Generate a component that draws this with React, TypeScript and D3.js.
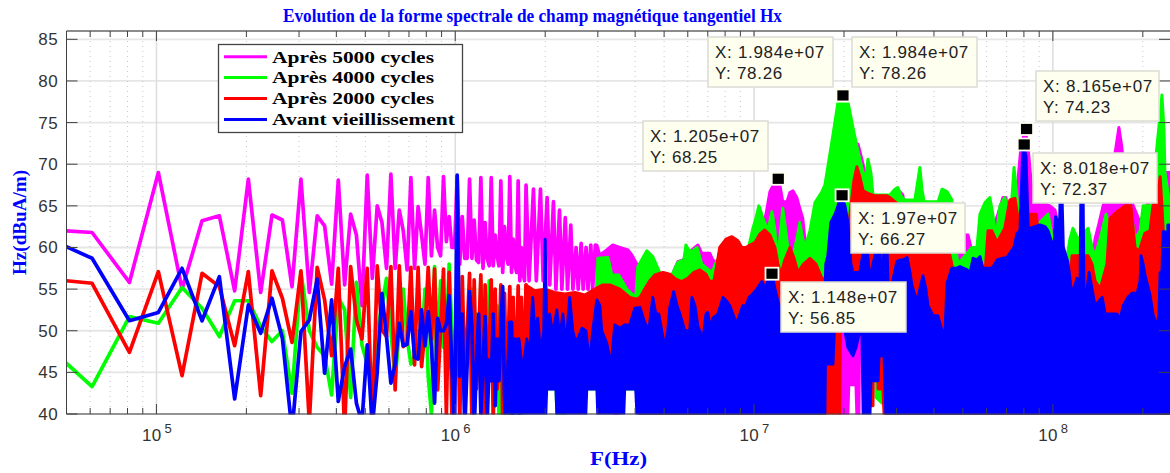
import React from "react";
import * as d3 from "d3";

// ---------- axis data ----------
const TITLE = "Evolution de la forme spectrale de champ magnétique tangentiel Hx";
const X_LABEL = "F(Hz)";
const Y_LABEL = "Hz(dBuA/m)";
const Y_TICKS = [40, 45, 50, 55, 60, 65, 70, 75, 80, 85];
const X_DECADES = [5, 6, 7, 8];
const F_MIN = 5e4;
const LOGF_MAX = 8.392;
const DB_MIN = 40;
const DB_MAX = 86;
const HARMONIC_HZ = 20300;

// ---------- low-frequency comb: harmonic rank and level ----------
const combN = [2.46, ...d3.range(3, 86)];

const magentaComb = [62, 61.8, 55.8, 69, 55, 63.2, 63.8, 54.8, 68.2, 54.6, 63.9, 63.3, 55.3, 68.2, 54.6, 63.8, 62.6, 55.6, 68.1, 55.5, 64, 61.5, 53, 68.7, 56.3, 65, 63, 57.5, 68.8, 57.5, 64.5, 62, 57.3, 68.4, 57.5, 64.9, 61.5, 58, 68.4, 59, 64.5, 60, 59, 68.5, 60.7, 63.7, 60, 60, 68.5, 58, 63.7, 58.7, 58.7, 68.2, 58.7, 63.3, 58.5, 58.2, 68.4, 57.5, 63, 58.7, 57.8, 68.4, 57.8, 61.5, 59, 57.8, 68, 57, 62.5, 59, 58, 68.5, 57, 61, 58, 57, 68, 56, 60, 57, 56, 67.5];
const magentaCombTailN = [87, 90, 92, 95, 97, 100, 102, 105, 107, 110, 112, 115, 117, 120, 122, 125, 127, 130, 132, 135, 137, 140, 142, 145];
const magentaCombTail = [56, 67, 56, 67, 56, 66, 55.5, 65.5, 55, 64.5, 55, 63.6, 55, 62.7, 55, 60, 55, 60.5, 55, 60, 55, 60.3, 55, 60.3];

const greenComb = [46.1, 43.3, 51.7, 50.9, 55.2, 52.7, 49.3, 53.6, 53.6, 50.5, 48.7, 50, 42.5, 57, 50, 48, 47, 42.3, 54, 52.5, 42, 55.8, 48.3, 46, 43, 50, 53, 56.3, 50, 44, 50, 55, 49, 46, 47, 50, 48, 55, 44.5, 40, 57.7, 48, 56, 48, 49.2, 58, 50, 45, 54, 44, 52, 45, 48, 47, 55, 46, 52, 44, 56, 42, 53, 45, 56, 44, 50, 41, 53, 40, 52, 40, 50, 39, 50, 39, 48, 39, 48, 39, 47, 39, 46, 39, 46, 42];

const redComb = [56, 55.7, 47.4, 57.1, 44.6, 56.9, 55.3, 48.2, 57.1, 42.2, 57.2, 53.9, 48.6, 57.2, 39, 57.6, 53.7, 47, 57.5, 38, 57.7, 51.3, 49, 57.5, 38, 57.8, 50.1, 49.3, 57.7, 42.9, 57.8, 48.1, 48.4, 57.6, 45.9, 57.6, 45.7, 50, 57.6, 49, 57.4, 42.9, 50, 57.4, 40, 57, 40, 44, 57, 39, 56.5, 44, 50, 56.9, 39, 56.1, 43, 49, 56.7, 38.5, 55.5, 44, 48, 56.1, 39, 55, 43, 47, 55.5, 39, 54.5, 44, 48, 55.3, 40, 54, 44, 47, 55.4, 41, 54, 45, 48, 55.5];

const blueCombN = [2.46, ...d3.range(3, 82)];
const blueComb = [60.1, 58.7, 51.2, 52.2, 57.5, 51.2, 56.5, 41.8, 53.1, 49.7, 53.9, 49.1, 38, 49.9, 51.3, 56.2, 44.9, 53.7, 41.5, 45.7, 47.8, 41.3, 39, 48.3, 38.5, 45, 54.5, 49.3, 43.7, 46, 50.9, 48.2, 48.4, 52.3, 46.8, 46.6, 52.5, 48.2, 52.3, 48, 41.3, 51.5, 50, 50, 50.8, 54.2, 45.7, 38, 68.7, 44.5, 52, 38, 46, 54.7, 50.5, 38, 46, 52, 40, 46, 51.7, 39, 46.5, 44, 52, 41, 49, 44, 50, 55.3, 42, 38, 46, 51, 51, 40, 49, 43, 49, 39, 44];

// ---------- dense spectrum: upper envelope (log10 Hz, dBuA/m) ----------
const magentaTopLogF = [6.474, 6.484, 6.507, 6.527, 6.551, 6.578, 6.591, 6.608, 6.685, 6.708, 6.728, 6.745, 6.762, 6.785, 6.812, 6.825, 6.852, 6.862, 6.879, 7.019, 7.026, 7.04, 7.053, 7.066, 7.076, 7.086, 7.096, 7.11, 7.12, 7.13, 7.143, 7.153, 7.163, 7.173, 7.187, 7.237, 7.254, 7.27, 7.287, 7.304, 7.321, 7.338, 7.348, 7.358, 7.368, 7.381, 7.405, 7.421, 7.455, 7.471, 7.488, 7.498, 7.508, 7.555, 7.622, 7.689, 7.706, 7.716, 7.726, 7.736, 7.756, 7.773, 7.796, 7.816, 7.833, 7.843, 7.853, 7.866, 7.883, 7.893, 7.907, 7.917, 7.927, 7.937, 7.957, 7.99, 8.007, 8.017, 8.034, 8.047, 8.074, 8.124, 8.141, 8.155, 8.168, 8.185, 8.201, 8.211, 8.221, 8.231, 8.241, 8.258, 8.292, 8.325, 8.342, 8.352, 8.365, 8.375, 8.392];
const magentaTopDb = [60.3, 59.1, 59.7, 60.3, 60, 59.7, 59.1, 58, 55, 55, 56.9, 58.3, 58.5, 59.5, 60.3, 59.3, 59.3, 58.5, 58, 58, 62, 64, 66.7, 67.6, 68.25, 67.6, 65.5, 65.5, 66.6, 66.8, 66, 64.7, 63.5, 60, 57, 57, 60, 66, 70, 72, 73, 72.6, 72.4, 71, 69.5, 67, 66, 65, 65, 66, 66.7, 66.3, 63, 63, 62, 62, 61.5, 61.5, 60, 58, 58, 60, 62, 64, 66, 66, 63, 63, 68, 72, 74.23, 72, 68, 65, 65.5, 65, 64.5, 63, 60, 58, 55, 55, 61, 63, 65, 67, 70, 72, 74.4, 72, 68, 66, 63, 66, 71, 72, 70, 69, 69];
const magentaBaseLogF = [6.474, 6.53, 6.534, 6.544, 6.548, 7.237, 7.287, 7.314, 7.317, 7.341, 7.344, 7.351, 7.354, 8.392];
const magentaBaseDb = [46, 46, 40, 40, 46, 48, 40, 40, 43.5, 43.5, 40, 40, 52, 52];

const greenTopLogF = [6.3, 6.45, 6.474, 6.477, 6.511, 6.524, 6.547, 6.574, 6.604, 6.611, 6.641, 6.661, 6.678, 6.708, 6.735, 6.745, 6.765, 6.772, 6.779, 6.792, 6.809, 6.825, 6.859, 6.876, 6.969, 6.996, 7.006, 7.016, 7.029, 7.046, 7.06, 7.07, 7.076, 7.086, 7.096, 7.106, 7.113, 7.13, 7.143, 7.153, 7.163, 7.17, 7.187, 7.204, 7.227, 7.237, 7.247, 7.264, 7.281, 7.297, 7.314, 7.331, 7.348, 7.365, 7.375, 7.381, 7.391, 7.398, 7.455, 7.471, 7.481, 7.495, 7.505, 7.538, 7.548, 7.555, 7.562, 7.569, 7.616, 7.629, 7.646, 7.662, 7.672, 7.682, 7.706, 7.729, 7.746, 7.756, 7.773, 7.789, 7.799, 7.809, 7.823, 7.839, 7.853, 7.863, 7.87, 7.88, 7.89, 7.947, 7.97, 7.984, 7.994, 8, 8.03, 8.044, 8.057, 8.067, 8.084, 8.097, 8.118, 8.131, 8.141, 8.158, 8.178, 8.191, 8.258, 8.275, 8.292, 8.302, 8.325, 8.335, 8.348, 8.359, 8.365, 8.372, 8.375, 8.392];
const greenTopDb = [50, 50, 54, 58.7, 58.8, 56.7, 56.7, 55, 54, 57.7, 59.6, 58.9, 57.5, 55, 57.5, 58.2, 58.5, 60.3, 59.8, 59.5, 60, 58, 57, 58.5, 58, 62.3, 63.5, 65, 63.6, 62, 64.3, 62, 59, 61, 64.7, 62, 60, 59, 61, 63, 61, 60, 62, 65.4, 66.7, 67.5, 69.7, 73.5, 77.5, 78.26, 77.5, 74.4, 71.5, 69, 68.5, 70.6, 69, 66.3, 66.3, 67, 67.2, 66, 65.7, 65.7, 68, 69.6, 67, 65.5, 65.5, 67, 66.7, 65.7, 61, 58, 59, 60, 60, 64, 65.4, 66, 64, 61, 65, 66, 64, 66, 69.6, 66, 63, 62.7, 63.5, 64, 62, 60, 56, 58, 61, 62.3, 61, 61.5, 62.3, 60, 59, 61, 64, 62, 65, 61, 62, 65, 65, 66, 72, 76, 78.3, 74, 69, 65];
const greenBaseLogF = [6.3, 6.337, 6.34, 6.367, 6.37, 6.604, 6.618, 7.237, 7.24, 7.405, 7.408, 7.438, 7.441, 8.392];
const greenBaseDb = [43, 43, 40, 40, 43, 43, 40, 40, 56, 56, 42, 41, 40, 40];

const redTopLogF = [6.236, 6.266, 6.3, 6.333, 6.367, 6.4, 6.434, 6.467, 6.494, 6.517, 6.551, 6.584, 6.608, 6.618, 6.634, 6.651, 6.668, 6.695, 6.718, 6.738, 6.758, 6.778, 6.798, 6.819, 6.839, 6.852, 6.866, 6.876, 6.885, 6.906, 6.926, 6.946, 6.959, 6.973, 6.986, 7.003, 7.019, 7.036, 7.053, 7.07, 7.08, 7.09, 7.103, 7.12, 7.133, 7.147, 7.163, 7.187, 7.207, 7.227, 7.254, 7.281, 7.291, 7.297, 7.321, 7.334, 7.344, 7.354, 7.365, 7.381, 7.405, 7.445, 7.455, 7.488, 7.622, 7.656, 7.679, 7.756, 7.773, 7.783, 7.796, 7.813, 7.839, 7.856, 7.873, 7.883, 7.896, 7.917, 7.944, 7.957, 7.99, 8.057, 8.064, 8.118, 8.131, 8.141, 8.158, 8.181, 8.191, 8.215, 8.241, 8.261, 8.275, 8.288, 8.308, 8.325, 8.335, 8.348, 8.359, 8.365, 8.372, 8.392];
const redTopDb = [55.5, 54.8, 55, 54.6, 54.4, 54.6, 54.3, 55, 55.5, 55.5, 55, 54, 53.8, 54, 55, 56, 56.7, 57, 56.8, 56.2, 55.9, 56.3, 57, 57.3, 56.8, 55.9, 56, 58, 60, 61, 61.3, 60.8, 60, 60, 60.3, 60.6, 61.6, 62.1, 61.5, 60, 58, 56.8, 58.5, 60, 58.8, 57, 57.9, 58.7, 58, 56.3, 56, 56, 62, 56, 64, 68, 69.7, 68.5, 66.8, 66.5, 66.2, 66.2, 66, 65, 63, 59, 55, 55, 57, 62, 62, 60.6, 62.3, 65.7, 65.9, 63.6, 60, 64, 64, 60, 58, 55, 59, 59, 58, 56, 55, 58, 63.5, 64.3, 65, 65, 60, 59.5, 61.7, 62, 65, 66, 68.5, 65, 60, 55];
const redBaseLogF = [6.236, 6.604, 6.618, 7.237, 7.287, 7.29, 7.384, 7.388, 7.398, 7.401, 7.411, 7.415, 7.431, 7.435, 8.392];
const redBaseDb = [46, 46, 40, 40, 40, 55, 55, 41, 41, 55, 55, 43, 43, 40, 40];

const blueTopLogF = [6.182, 6.199, 6.213, 6.226, 6.239, 6.249, 6.259, 6.266, 6.276, 6.286, 6.296, 6.301, 6.306, 6.316, 6.326, 6.34, 6.35, 6.36, 6.37, 6.383, 6.393, 6.4, 6.41, 6.424, 6.437, 6.45, 6.46, 6.474, 6.484, 6.49, 6.507, 6.521, 6.534, 6.551, 6.567, 6.584, 6.601, 6.618, 6.634, 6.648, 6.661, 6.671, 6.681, 6.691, 6.701, 6.711, 6.718, 6.731, 6.742, 6.752, 6.768, 6.785, 6.792, 6.802, 6.812, 6.829, 6.839, 6.845, 6.855, 6.862, 6.879, 6.896, 6.909, 6.919, 6.929, 6.942, 6.962, 6.973, 6.983, 6.993, 7.009, 7.026, 7.04, 7.046, 7.06, 7.07, 7.08, 7.093, 7.237, 7.24, 7.247, 7.257, 7.271, 7.281, 7.291, 7.304, 7.314, 7.324, 7.331, 7.354, 7.368, 7.378, 7.388, 7.398, 7.411, 7.421, 7.428, 7.435, 7.445, 7.448, 7.461, 7.478, 7.488, 7.498, 7.512, 7.522, 7.528, 7.545, 7.555, 7.565, 7.575, 7.582, 7.599, 7.615, 7.629, 7.639, 7.646, 7.662, 7.676, 7.689, 7.702, 7.713, 7.723, 7.733, 7.746, 7.756, 7.766, 7.776, 7.796, 7.806, 7.813, 7.833, 7.846, 7.856, 7.87, 7.88, 7.89, 7.9, 7.91, 7.917, 7.923, 7.94, 7.957, 7.974, 7.984, 7.997, 8.004, 8.009, 8.017, 8.022, 8.025, 8.03, 8.035, 8.05, 8.064, 8.081, 8.091, 8.094, 8.101, 8.104, 8.108, 8.121, 8.131, 8.141, 8.165, 8.175, 8.215, 8.225, 8.235, 8.251, 8.265, 8.282, 8.292, 8.295, 8.302, 8.308, 8.325, 8.335, 8.348, 8.355, 8.359, 8.365, 8.369, 8.375, 8.382, 8.385, 8.392];
const blueTopDb = [51, 46, 49, 45, 49, 47, 54, 50, 51.5, 47, 50, 61, 50, 52, 49.5, 52.5, 49, 52, 48, 54, 50, 49, 49, 50.3, 50, 46, 50, 53.7, 53, 50, 48.5, 45.8, 50.7, 50.3, 50.7, 50.7, 52.7, 52.8, 51, 50, 54, 52, 52, 50, 48, 50, 52.8, 54.7, 53, 52, 50, 50, 54, 53, 50.5, 49, 52, 52.2, 50, 51.5, 52, 54, 53.5, 53, 52, 50.8, 53, 53, 54, 54.3, 55, 55.9, 55, 56, 56.85, 55, 53.5, 52, 54, 58, 59, 63, 64, 65, 66.27, 65, 63, 58, 57, 57, 60, 60, 56, 58, 60, 59.5, 55, 60, 60, 56, 55.5, 58.3, 58.5, 58.5, 58.8, 57, 55.5, 53.5, 55, 56.6, 55, 53, 51.8, 51.8, 50, 50, 55.7, 57.5, 57.5, 57.7, 57.5, 57.3, 57, 58.7, 58.5, 58.9, 57.5, 57.5, 57.5, 58, 58.5, 58.7, 58.8, 59.3, 60, 61.7, 62, 72.37, 71, 62.5, 62.3, 62.5, 62.7, 62.5, 62, 60.5, 60, 63.7, 63, 62, 67, 67, 60, 58.3, 54.3, 56.3, 55, 67, 67, 55, 53, 57, 55, 53, 54, 52, 52, 51.3, 53, 54, 54.5, 54.5, 56, 59, 58, 56.7, 54.3, 52, 50.4, 52, 57, 57, 61.9, 61.9, 50, 62.7, 62.7];
const blueBaseLogF = [6.182, 6.303, 6.306, 6.337, 6.34, 6.437, 6.44, 6.474, 6.477, 6.564, 6.567, 6.604, 6.608, 7.237, 7.24, 7.247, 7.264, 7.271, 7.287, 7.294, 7.304, 7.314, 7.331, 7.341, 7.354, 7.361, 7.365, 7.388, 7.391, 7.415, 7.418, 7.435, 7.441, 8.392];
const blueBaseDb = [40, 40, 43, 43, 40, 40, 43, 43, 40, 40, 43, 43, 40, 40, 50, 46, 46, 52, 52, 50, 50, 48, 47, 48, 50, 50, 40, 40, 44, 44, 47, 47, 40, 40];

// ---------- legend ----------
const legendLabels = ["Après 5000 cycles", "Après 4000 cycles", "Après 2000 cycles", "Avant vieillissement"];
const legendLengths = [162, 162, 162, 183];
const MAGENTA = "#ff00ff";
const GREEN = "#00ff00";
const RED = "#ff0000";
const BLUE = "#0000ff";
const legendColors = [MAGENTA, GREEN, RED, BLUE];

// ---------- data tips ----------
const tipX = [1.984e7, 1.984e7, 8.165e7, 8.018e7, 1.97e7, 1.148e7, 1.205e7];
const tipY = [78.26, 78.26, 74.23, 72.37, 66.27, 56.85, 68.25];
const tipXText = ["1.984e+07", "1.984e+07", "8.165e+07", "8.018e+07", "1.97e+07", "1.148e+07", "1.205e+07"];
const tipYText = ["78.26", "78.26", "74.23", "72.37", "66.27", "56.85", "68.25"];
const tipBoxLeft = [708, 852, 1036, 1033, 851, 781, 643];
const tipBoxTop = [37, 37, 71, 153, 203, 282, 121];
const tipBoxWidth = [125, 125, 123, 124, 114, 125, 125];

const W = 1170;
const H = 473;
const LEFT = 66.5;
const BOTTOM = 414;
const TOP = 31;

const x = d3.scaleLog().domain([F_MIN, Math.pow(10, LOGF_MAX)]).range([LEFT, W]);
const y = d3.scaleLinear().domain([DB_MIN, DB_MAX]).range([BOTTOM, TOP]);
const line = d3.line<[number, number]>().x((d) => x(d[0])).y((d) => y(d[1]));

const comb = (ns: number[], vs: number[]) => ns.map((n, i) => [n * HARMONIC_HZ, vs[i]] as [number, number]);
const logPts = (fs: number[], vs: number[]) => fs.map((f, i) => [Math.pow(10, f), vs[i]] as [number, number]);
const band = (tf: number[], tv: number[], bf: number[], bv: number[]) =>
  line([...logPts(tf, tv), ...logPts(bf, bv).reverse()]) + "Z";

const minorTicks: number[] = [];
[4, 5, 6, 7, 8].forEach((e) => {
  d3.range(2, 10).forEach((m) => {
    const f = m * Math.pow(10, e);
    if (f > F_MIN && f < Math.pow(10, LOGF_MAX)) minorTicks.push(f);
  });
});

const SANS = "'Liberation Sans', Arial, sans-serif";
const SERIF = "'Liberation Serif', 'Times New Roman', serif";
const COMB_W = 3.7;
const BAND_W = 3;

export default function App() {
  return (
    <svg width={W} height={H} viewBox={`0 0 ${W} ${H}`} style={{ position: "absolute", left: 0, top: 0, background: "#fff" }}>
      <defs>
        <clipPath id="plot">
          <rect x={LEFT} y={TOP} width={W - LEFT} height={BOTTOM - TOP + 0.5} />
        </clipPath>
      </defs>

      {/* grid */}
      {Y_TICKS.map((t) => (
        <line key={t} x1={LEFT} x2={W} y1={y(t)} y2={y(t)} stroke="#e6e6e6" strokeWidth={1.8} />
      ))}
      {minorTicks.map((f) => (
        <line key={f} x1={x(f)} x2={x(f)} y1={TOP} y2={BOTTOM} stroke="#c8c8c8" strokeWidth={1} strokeDasharray="1 4" />
      ))}
      {X_DECADES.map((e) => (
        <line key={e} x1={x(Math.pow(10, e))} x2={x(Math.pow(10, e))} y1={TOP} y2={BOTTOM} stroke="#dddddd" strokeWidth={1.5} />
      ))}

      {/* series */}
      <g clipPath="url(#plot)" fill="none" strokeLinejoin="round" strokeLinecap="round">
        <path d={line([...comb(combN, magentaComb), ...comb(magentaCombTailN, magentaCombTail)])!} stroke={MAGENTA} strokeWidth={COMB_W} />
        <path d={band(magentaTopLogF, magentaTopDb, magentaBaseLogF, magentaBaseDb)} fill={MAGENTA} stroke={MAGENTA} strokeWidth={BAND_W} />
        <path d={line(comb(combN, greenComb))!} stroke={GREEN} strokeWidth={COMB_W} />
        <path d={band(greenTopLogF, greenTopDb, greenBaseLogF, greenBaseDb)} fill={GREEN} stroke={GREEN} strokeWidth={BAND_W} />
        <path d={line(comb(combN, redComb))!} stroke={RED} strokeWidth={COMB_W} />
        <path d={band(redTopLogF, redTopDb, redBaseLogF, redBaseDb)} fill={RED} stroke={RED} strokeWidth={BAND_W} />
        <path d={line(comb(blueCombN, blueComb))!} stroke={BLUE} strokeWidth={COMB_W} />
        <path d={band(blueTopLogF, blueTopDb, blueBaseLogF, blueBaseDb)} fill={BLUE} stroke={BLUE} strokeWidth={BAND_W} />
      </g>

      {/* axes */}
      <line x1={LEFT} x2={W} y1={TOP} y2={TOP} stroke="#8c8c8c" strokeWidth={1.8} />
      <line x1={LEFT} x2={W} y1={BOTTOM} y2={BOTTOM} stroke="#404040" strokeWidth={1} />
      <line x1={LEFT} x2={LEFT} y1={TOP} y2={BOTTOM} stroke="#404040" strokeWidth={1} />
      {Y_TICKS.map((t) => (
        <g key={t}>
          <line x1={LEFT} x2={LEFT + 11} y1={y(t)} y2={y(t)} stroke="#404040" strokeWidth={1} />
          <line x1={W - 11} x2={W} y1={y(t)} y2={y(t)} stroke="#404040" strokeWidth={1} />
          <text x={58} y={y(t) + 6} textAnchor="end" fontFamily={SANS} fontSize={17} fill="#333" letterSpacing={0.4}>
            {t}
          </text>
        </g>
      ))}
      {minorTicks.map((f) => (
        <g key={f} stroke="#404040" strokeWidth={1}>
          <line x1={x(f)} x2={x(f)} y1={TOP} y2={TOP + 6} />
          <line x1={x(f)} x2={x(f)} y1={BOTTOM - 6} y2={BOTTOM} />
        </g>
      ))}
      {X_DECADES.map((e) => (
        <g key={e}>
          <line x1={x(Math.pow(10, e))} x2={x(Math.pow(10, e))} y1={TOP} y2={TOP + 10} stroke="#404040" strokeWidth={1} />
          <line x1={x(Math.pow(10, e))} x2={x(Math.pow(10, e))} y1={BOTTOM - 10} y2={BOTTOM} stroke="#404040" strokeWidth={1} />
          <text x={x(Math.pow(10, e)) - 14.5} y={441} fontFamily={SANS} fontSize={17} fill="#333" letterSpacing={0.3}>
            10
          </text>
          <text x={x(Math.pow(10, e)) + 8} y={433} fontFamily={SANS} fontSize={13} fill="#333">
            {e}
          </text>
        </g>
      ))}

      {/* legend */}
      <rect x={218.5} y={44.5} width={244} height={88} fill="#fff" stroke="#444" strokeWidth={1.3} />
      {legendLabels.map((l, i) => (
        <g key={l}>
          <line x1={224} x2={267} y1={56.7 + i * 20.9} y2={56.7 + i * 20.9} stroke={legendColors[i]} strokeWidth={3} />
          <text x={272} y={62.5 + i * 20.9} fontFamily={SERIF} fontWeight="bold" fontSize={17.5} fill="#000" textLength={legendLengths[i]} lengthAdjust="spacingAndGlyphs">
            {l}
          </text>
        </g>
      ))}

      {/* data tips */}
      {tipX.map((f, i) => (
        <g key={i}>
          <rect x={x(f) - 6.5} y={y(tipY[i]) - 6} width={13} height={12} fill="#000" stroke="#fffff0" strokeWidth={1.8} />
          <rect x={tipBoxLeft[i]} y={tipBoxTop[i]} width={tipBoxWidth[i]} height={50} fill="#fffff0" stroke="#dcdcd4" strokeWidth={1.5} />
          <text x={tipBoxLeft[i] + 7} y={tipBoxTop[i] + 21} fontFamily={SANS} fontSize={17} fill="#222" letterSpacing={0.7}>
            X: {tipXText[i]}
          </text>
          <text x={tipBoxLeft[i] + 7} y={tipBoxTop[i] + 42} fontFamily={SANS} fontSize={17} fill="#222" letterSpacing={0.7}>
            Y: {tipYText[i]}
          </text>
        </g>
      ))}

      {/* titles */}
      <text x={283} y={22} fontFamily={SERIF} fontWeight="bold" fontSize={18} fill={BLUE} textLength={499} lengthAdjust="spacingAndGlyphs">
        {TITLE}
      </text>
      <text x={590} y={465} fontFamily={SERIF} fontWeight="bold" fontSize={19.5} fill={BLUE} textLength={57} lengthAdjust="spacingAndGlyphs">
        {X_LABEL}
      </text>
      <text transform="translate(26,275) rotate(-90)" fontFamily={SERIF} fontWeight="bold" fontSize={18} fill={BLUE} textLength={105} lengthAdjust="spacingAndGlyphs">
        {Y_LABEL}
      </text>
    </svg>
  );
}
